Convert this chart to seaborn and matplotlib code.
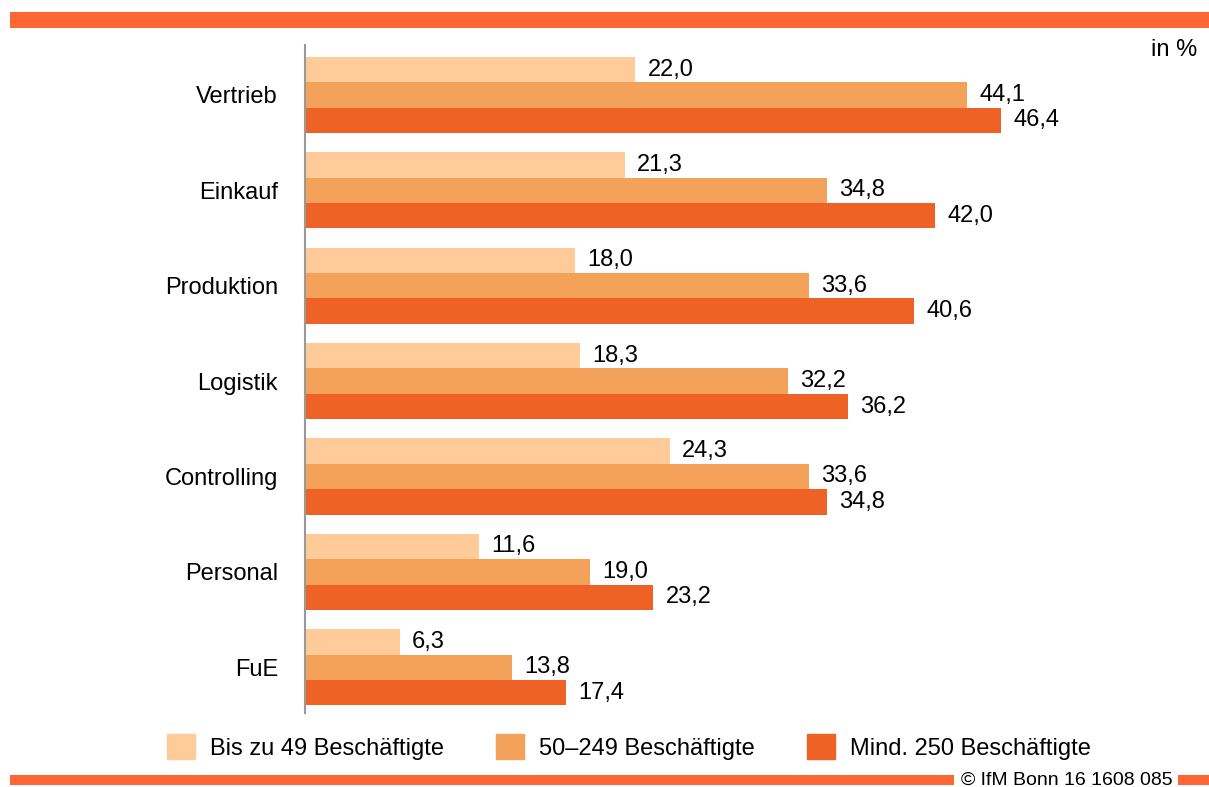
# share of firms by department and company size

import matplotlib.pyplot as plt
import matplotlib.patches as mpatches
import seaborn as sns
import pandas as pd

departments = ['Vertrieb', 'Einkauf', 'Produktion', 'Logistik', 'Controlling', 'Personal', 'FuE']
groups = ['Bis zu 49 Beschäftigte', '50–249 Beschäftigte', 'Mind. 250 Beschäftigte']
small = [22.0, 21.3, 18.0, 18.3, 24.3, 11.6, 6.3]
medium = [44.1, 34.8, 33.6, 32.2, 33.6, 19.0, 13.8]
large = [46.4, 42.0, 40.6, 36.2, 34.8, 23.2, 17.4]
colors = ['#FFCC99', '#F4A259', '#EE6325']
bar_orange = '#FF6633'

df = pd.DataFrame({
    'Bereich': departments * 3,
    'Gruppe': [groups[0]] * 7 + [groups[1]] * 7 + [groups[2]] * 7,
    'Wert': small + medium + large,
})

sns.set_style('white')
plt.rcParams['font.family'] = ['Liberation Sans', 'DejaVu Sans']
plt.rcParams['text.color'] = 'black'
plt.rcParams['ytick.color'] = 'black'
plt.rcParams['ytick.labelcolor'] = 'black'
fs = 17

W, H = 1209, 787
fig = plt.figure(figsize=(W / 100, H / 100), dpi=100)
ax = fig.add_axes([305 / W, 1 - 713 / H, (W - 305) / W, (713 - 45) / H])

sns.barplot(data=df, y='Bereich', x='Wert', hue='Gruppe', palette=colors,
            orient='h', width=0.8, saturation=1, linewidth=0, ax=ax, legend=False)

ax.set_xlim(0, (W - 305) / 15)
ax.set_ylim(6.48, -0.524)
ax.set_xlabel('')
ax.set_ylabel('')
ax.set_xticks([])
ax.tick_params(axis='y', length=0, pad=19.5, labelsize=fs, labelcolor='black')
for s in ['top', 'right', 'bottom']:
    ax.spines[s].set_visible(False)
ax.spines['left'].set_color('#999999')
ax.spines['left'].set_linewidth(1.5)

# value labels with decimal comma
for cont in ax.containers:
    labels = [f'{b.get_width():.1f}'.replace('.', ',') for b in cont]
    ax.bar_label(cont, labels=labels, padding=9, fontsize=fs, color='black')

# legend
handles = [mpatches.Patch(color=c, label=g) for c, g in zip(colors, groups)]
fig.legend(handles=handles, loc='center left', bbox_to_anchor=(167 / W, 1 - 747 / H),
           ncol=3, frameon=False, fontsize=fs, handlelength=1.2, handleheight=1.2,
           handletextpad=0.63, columnspacing=2.2, borderaxespad=0, borderpad=0,
           labelcolor='black')

fig.text(1197 / W, 1 - 50 / H, 'in %', ha='right', va='center', fontsize=fs)

# decorative bars top and bottom
fig.add_artist(mpatches.Rectangle((10 / W, 1 - 28 / H), (W - 10) / W, 16 / H,
                                  transform=fig.transFigure, color=bar_orange, lw=0))
fig.add_artist(mpatches.Rectangle((10 / W, 1 - 785 / H), 944 / W, 10 / H,
                                  transform=fig.transFigure, color=bar_orange, lw=0))
fig.add_artist(mpatches.Rectangle((1178 / W, 1 - 785 / H), 31 / W, 10 / H,
                                  transform=fig.transFigure, color=bar_orange, lw=0))
fig.text(1173 / W, 1 - 780 / H, '© IfM Bonn 16 1608 085', ha='right', va='center', fontsize=14)

fig.savefig('out.png', dpi=100)
